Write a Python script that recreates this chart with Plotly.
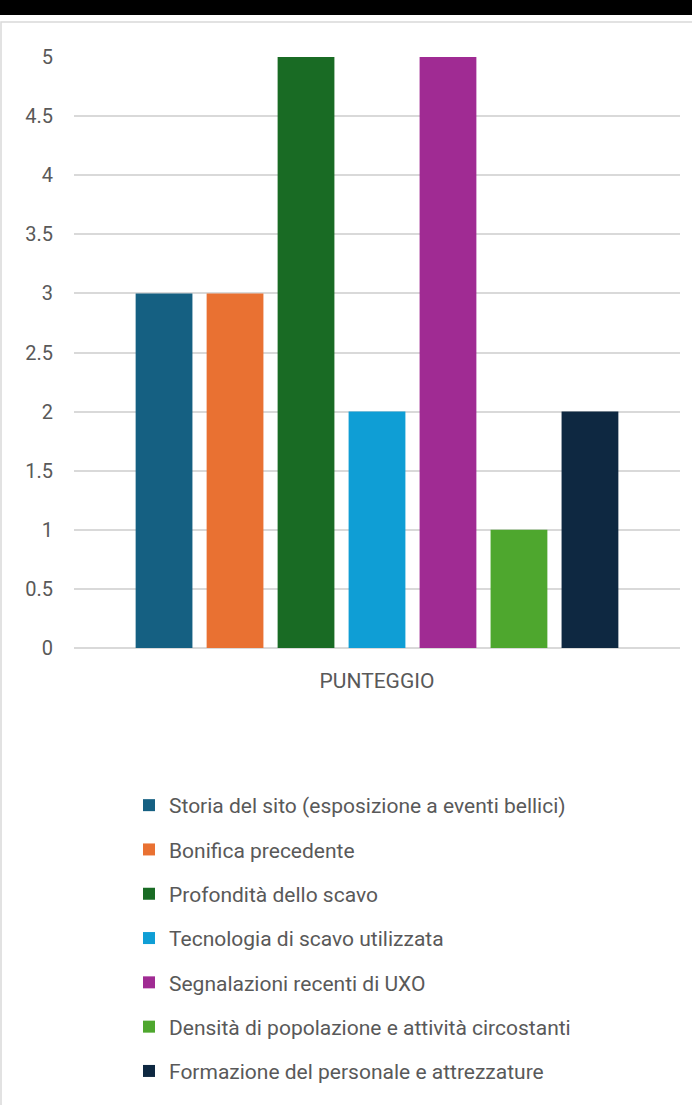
import plotly.graph_objects as go

categories = ["PUNTEGGIO"]
series_names = [
    "Storia del sito (esposizione a eventi bellici)",
    "Bonifica precedente",
    "Profondità dello scavo",
    "Tecnologia di scavo utilizzata",
    "Segnalazioni recenti di UXO",
    "Densità di popolazione e attività circostanti",
    "Formazione del personale e attrezzature",
]
series_values = [3, 3, 5, 2, 5, 1, 2]
series_colors = ["#156082", "#E97132", "#196B24", "#0F9ED5", "#A02B93", "#4EA72E", "#0E2841"]
tick_vals = [0, 0.5, 1, 1.5, 2, 2.5, 3, 3.5, 4, 4.5, 5]
tick_text = ["0", "0.5", "1", "1.5", "2", "2.5", "3", "3.5", "4", "4.5", "5"]

FONT = "Roboto"
TXT = "#595959"

fig = go.Figure()
for i, (name, val, col) in enumerate(zip(series_names, series_values, series_colors)):
    fig.add_trace(go.Bar(
        x=categories, y=[val], name=name, marker=dict(color=col, line=dict(width=0)),
        legendgroup=f"g{i}",
    ))

W, H = 692, 1105
ML, MR, MT, MB = 74, 12, 57, 457
pw = W - ML - MR
ph = H - MT - MB

def px_x(x):
    return (x - ML) / pw

def px_y(y):
    return 1 + (MT - y) / ph

fig.update_layout(
    width=W, height=H,
    margin=dict(l=ML, r=MR, t=MT, b=MB, autoexpand=False),
    paper_bgcolor="white", plot_bgcolor="white",
    barmode="group", bargap=0.18, bargroupgap=0.2,
    font=dict(family=FONT, color=TXT),
    showlegend=True,
    legend=dict(
        orientation="v", x=px_x(129), xanchor="left", y=px_y(785), yanchor="top",
        font=dict(size=21, color=TXT, family=FONT),
        traceorder="grouped", tracegroupgap=14, bgcolor="rgba(0,0,0,0)",
    ),
    xaxis=dict(showgrid=False, showline=False, ticks="", tickfont=dict(size=21, color=TXT),
               ticklabelstandoff=18),
    yaxis=dict(range=[0, 5], tickvals=tick_vals, ticktext=tick_text, showgrid=True,
               gridcolor="#D9D9D9", gridwidth=1.5, zeroline=True, zerolinecolor="#D9D9D9",
               zerolinewidth=1.5, showline=False, ticks="", tickfont=dict(size=20, color=TXT),
               ticklabelstandoff=20),
    shapes=[
        dict(type="rect", xref="paper", yref="paper", x0=px_x(1), x1=px_x(W + 20),
             y0=px_y(H + 20), y1=px_y(22), line=dict(color="#D9D9D9", width=1.5),
             fillcolor="rgba(0,0,0,0)", layer="below"),
        dict(type="rect", xref="paper", yref="paper", x0=px_x(-10), x1=px_x(W + 10),
             y0=px_y(15), y1=px_y(-10), line=dict(width=0), fillcolor="black", layer="above"),
    ],
)

fig.write_html("out.html")
